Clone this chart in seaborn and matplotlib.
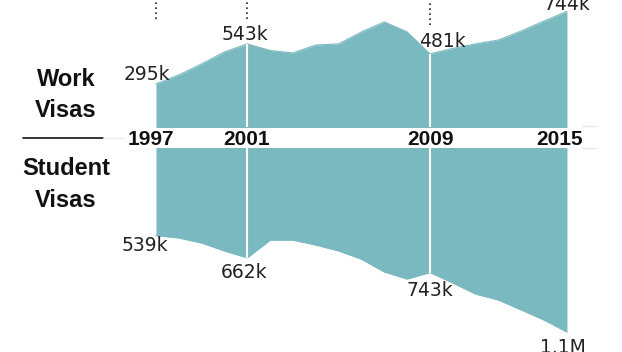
import numpy as np
import pandas as pd
import seaborn as sns
import matplotlib.pyplot as plt
from matplotlib.lines import Line2D
from matplotlib.transforms import ScaledTranslation

# visas issued per year, in thousands
years = list(range(1997, 2016))
work = [295, 350, 419, 493, 543, 502, 487, 536, 543, 617, 679, 617, 481, 515, 543, 567, 623, 685, 744]
student = [539, 552, 580, 624, 662, 564, 564, 591, 624, 669, 740, 779, 743, 801, 862, 895, 950, 1006, 1072]

tick_years = [1997, 2001, 2009, 2015]
work_labels = ["295k", "543k", "481k", "744k"]
student_labels = ["539k", "662k", "743k", "1.1M"]

df = pd.DataFrame({"year": years, "work": work, "student": student})
teal = "#7bb9c0"

sns.set_theme(style="white")
plt.rcParams["font.family"] = ["DejaVu Sans"]

fig = plt.figure(figsize=(6.22, 3.52), dpi=100)
ax_top = fig.add_axes([0, 1 - 127 / 352, 1, 127 / 352])
ax_bot = fig.add_axes([0, 0, 1, 204 / 352])

for ax in (ax_top, ax_bot):
    ax.set_facecolor("none")
    ax.set_xlim(1990.17, 2017.41)
    sns.despine(ax=ax, left=True, bottom=True)
    ax.set_yticks([])

# work visas (upwards)
sns.lineplot(data=df, x="year", y="work", ax=ax_top, color=teal, lw=0.8)
ax_top.fill_between(df.year, 0, df.work, color=teal, lw=0)
ax_top.set_ylim(28, 815)

# student visas (downwards)
sns.lineplot(data=df, x="year", y="student", ax=ax_bot, color=teal, lw=0.8)
ax_bot.fill_between(df.year, 0, df.student, color=teal, lw=0)
ax_bot.set_ylim(1182, 55)

for ax in (ax_top, ax_bot):
    ax.set_xlabel("")
    ax.set_ylabel("")

# white guides at 2001 and 2009
mid = df[df.year.isin([2001, 2009])]
ax_top.vlines(mid.year, 0, mid.work, color="white", lw=1.5, zorder=3)
ax_bot.vlines(mid.year, 0, mid.student, color="white", lw=1.5, zorder=3)

# dotted leaders to top annotations (cut off)
ax_top.vlines([1997, 2001], 697, 815, color="#222222", lw=1.2, linestyles=(0, (1, 2)))
ax_top.vlines([2009], 660, 815, color="#222222", lw=1.2, linestyles=(0, (1, 2)))

# year labels
ax_top.set_xticks(tick_years)
ax_top.set_xticklabels([str(y) for y in tick_years], fontfamily="Liberation Sans",
                       fontweight="bold", fontsize=15, color="#111111")
ax_top.tick_params(axis="x", length=0, pad=2.5)
ax_bot.set_xticks([])
shifts = [-5, -1, 1, -7]
for lab, sh in zip(ax_top.get_xticklabels(), shifts):
    lab.set_transform(lab.get_transform() + ScaledTranslation(sh / 100, 0, fig.dpi_scale_trans))

# value labels
top_offsets = [(10, 3, "right"), (-2, 3, "center"), (9, 5, "center"), (0, 1, "center")]
for yr, lab, (dx, dy, ha) in zip(tick_years, work_labels, top_offsets):
    val = df.loc[df.year == yr, "work"].iloc[0]
    ax_top.annotate(lab, (yr, val), xytext=(dx, dy), textcoords="offset points",
                    ha=ha, va="baseline", fontsize=13.5, color="#222222",
                    annotation_clip=False, zorder=5)

bot_offsets = [(8.5, 0, "right"), (-2, -4, "center"), (0, -6, "center"), (-3, -4, "center")]
for yr, lab, (dx, dy, ha) in zip(tick_years, student_labels, bot_offsets):
    val = df.loc[df.year == yr, "student"].iloc[0]
    ax_bot.annotate(lab, (yr, val), xytext=(dx, dy), textcoords="offset points",
                    ha=ha, va="top", fontsize=13.5, color="#222222",
                    annotation_clip=False, zorder=5)

# side labels
fig.text(66 / 622, 1 - 95 / 352, "Work\nVisas", ha="center", va="center",
         fontfamily="Liberation Sans", fontweight="bold", fontsize=17,
         linespacing=1.45, color="#111111")
fig.text(66 / 622, 1 - 184.5 / 352, "Student\nVisas", ha="center", va="center",
         fontfamily="Liberation Sans", fontweight="bold", fontsize=17,
         linespacing=1.5, color="#111111")

# separator lines
fig.add_artist(Line2D([23 / 622, 103 / 622], [1 - 138 / 352] * 2, color="#111111", lw=1.2))
fig.add_artist(Line2D([103 / 622, 125 / 622], [1 - 138 / 352] * 2, color="#eeeeee", lw=1))
for yy in (126, 148):
    fig.add_artist(Line2D([582 / 622, 596 / 622], [1 - yy / 352] * 2, color="#e6e6e6", lw=1))

fig.savefig("out.png", dpi=100)
